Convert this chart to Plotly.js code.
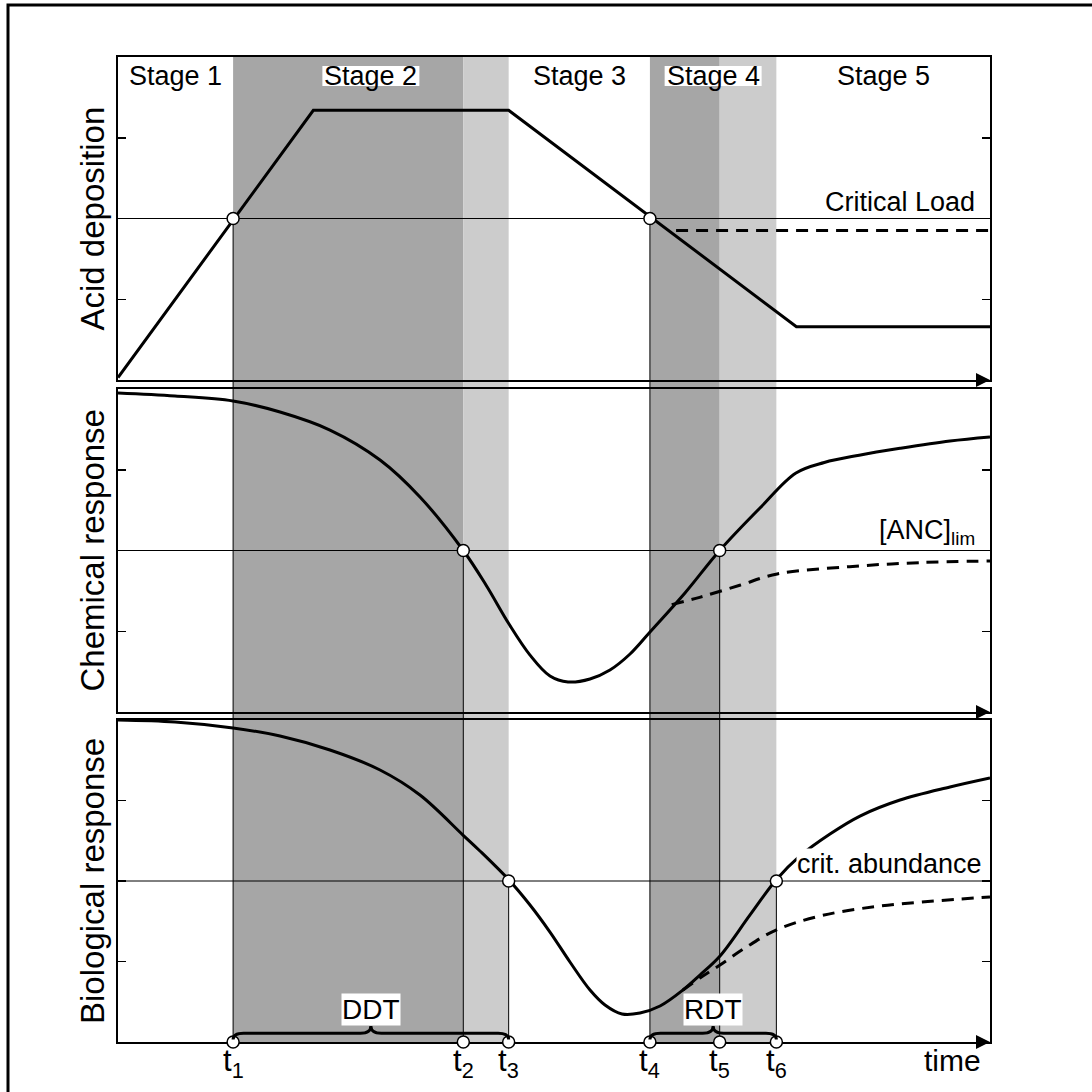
<!DOCTYPE html>
<html><head><meta charset="utf-8">
<script src="https://cdn.plot.ly/plotly-3.0.1.min.js"></script>
<style>html,body{margin:0;padding:0;background:#fff}#chart{width:1092px;height:1092px}</style>
</head><body><div id="chart"></div>
<script>
// ---------------- data ----------------
const titleText = 'Damage delay times and recovery delay times concept';
const panelTitles = ['Acid deposition', 'Chemical response', 'Biological response'];
const thresholdLabels = ['Critical Load', '[ANC]<sub>lim</sub>', 'crit. abundance'];
const thresholds = [2, 2, 2];
const stageLabels = ['Stage 1', 'Stage 2', 'Stage 3', 'Stage 4', 'Stage 5'];
const tLabels = ['t<sub>1</sub>', 't<sub>2</sub>', 't<sub>3</sub>', 't<sub>4</sub>', 't<sub>5</sub>', 't<sub>6</sub>'];
const tValues = [13.2, 39.6, 44.8, 61.0, 69.0, 75.5];
const tPanel = [0, 1, 2, 0, 1, 2];          // panel in which each t crosses its threshold
const delayLabels = ['DDT', 'RDT'];
const timeLabel = 'time';

const depX = [0, 22.4, 44.8, 77.8, 100];
const depY = [0.03, 3.34, 3.34, 0.66, 0.66];
const depDashX = [64, 100];
const depDashY = [1.85, 1.85];

const chemX = [0, 6.54, 13.19, 18.58, 24.31, 30.05, 34.63, 39.6, 42.2, 44.84, 47.25, 49.54, 51.61, 54.13, 56.42, 58.72, 61.01, 65.02, 69.0, 73.62, 77.75, 81.0, 85.0, 89.68, 95.41, 100];
const chemY = [3.95, 3.913, 3.851, 3.715, 3.492, 3.121, 2.663, 2.0, 1.573, 1.090, 0.705, 0.446, 0.372, 0.409, 0.520, 0.718, 0.991, 1.474, 2.0, 2.526, 2.960, 3.09, 3.18, 3.265, 3.356, 3.406];
const chemDashX = [63.5, 66.7, 71.3, 75.6, 83.9, 91.9, 100];
const chemDashY = [1.33, 1.42, 1.57, 1.71, 1.80, 1.85, 1.87];

const bioX = [0, 6.54, 13.19, 18.58, 24.31, 30.05, 34.63, 39.56, 41.51, 44.84, 47.25, 49.54, 51.83, 54.13, 55.85, 57.80, 59.86, 62.16, 64.79, 66.74, 69.04, 72.48, 75.46, 78.21, 81.65, 85.09, 89.68, 95.41, 100];
const bioY = [4.0, 3.975, 3.901, 3.801, 3.627, 3.379, 3.068, 2.571, 2.373, 2.012, 1.702, 1.366, 0.994, 0.646, 0.460, 0.348, 0.360, 0.447, 0.646, 0.832, 1.068, 1.578, 2.012, 2.311, 2.584, 2.807, 3.006, 3.168, 3.280];
const bioDashX = [64.79, 66.74, 69.04, 71.9, 75.46, 80.5, 87.4, 100];
const bioDashY = [0.646, 0.795, 0.957, 1.168, 1.391, 1.565, 1.689, 1.801];

// ---------------- geometry / style ----------------
const W = 1092;
const FONT = 'Liberation Sans, Arial, sans-serif';
const panelsPx = [[57, 380], [389, 712], [720, 1042]];
const xDom = [118 / W, 990 / W];
const yDoms = panelsPx.map(p => [1 - p[1] / W, 1 - p[0] / W]);
const YR = [0, 4], XR = [0, 100];
const pxPerX = (xDom[1] - xDom[0]) * W / (XR[1] - XR[0]);
const DARK = '#a6a6a6', LIGHT = '#cccccc';
const paperY = (panel, v) => yDoms[panel][0] + (v - YR[0]) / (YR[1] - YR[0]) * (yDoms[panel][1] - yDoms[panel][0]);
const ax = i => (i === 0 ? '' : String(i + 1));

const traces = [];
const solid = [[depX, depY], [chemX, chemY], [bioX, bioY]];
const dashed = [[depDashX, depDashY], [chemDashX, chemDashY], [bioDashX, bioDashY]];
solid.forEach((s, i) => traces.push({
  x: s[0], y: s[1], xaxis: 'x' + ax(i), yaxis: 'y' + ax(i), mode: 'lines',
  line: {color: '#000', width: 3, shape: i === 0 ? 'linear' : 'spline', smoothing: 1}, hoverinfo: 'skip'
}));
dashed.forEach((s, i) => traces.push({
  x: s[0], y: s[1], xaxis: 'x' + ax(i), yaxis: 'y' + ax(i), mode: 'lines',
  line: {color: '#000', width: 3, dash: '12px,8px', shape: i === 0 ? 'linear' : 'spline', smoothing: 1}, hoverinfo: 'skip'
}));
// crossing circles
for (let p = 0; p < 3; p++) {
  const xs = tValues.filter((t, k) => tPanel[k] === p);
  traces.push({
    x: xs, y: xs.map(() => thresholds[p]), xaxis: 'x' + ax(p), yaxis: 'y' + ax(p), mode: 'markers',
    marker: {size: 12, color: '#fff', line: {color: '#000', width: 1.5}}, cliponaxis: false, hoverinfo: 'skip'
  });
}
// circles on the time axis
traces.push({
  x: tValues, y: tValues.map(() => 0), xaxis: 'x3', yaxis: 'y3', mode: 'markers',
  marker: {size: 12, color: '#fff', line: {color: '#000', width: 1.5}}, cliponaxis: false, hoverinfo: 'skip'
});

const layout = {
  width: W, height: W, margin: {l: 0, r: 0, t: 0, b: 0},
  paper_bgcolor: '#fff', plot_bgcolor: 'rgba(0,0,0,0)', showlegend: false,
  font: {family: FONT, color: '#000'},
  shapes: [], annotations: []
};
for (let i = 0; i < 3; i++) {
  layout['xaxis' + ax(i)] = {
    domain: xDom, range: XR, anchor: 'y' + ax(i), showline: true, linecolor: '#000', linewidth: 2,
    mirror: true, ticks: '', showticklabels: false, showgrid: false, zeroline: false, fixedrange: true,
    layer: 'below traces'
  };
  layout['yaxis' + ax(i)] = {
    domain: yDoms[i], range: YR, anchor: 'x' + ax(i), showline: true, linecolor: '#000', linewidth: 2,
    mirror: 'ticks', ticks: 'inside', ticklen: 8, tickwidth: 1.5, tickcolor: '#000', tickvals: [1, 2, 3],
    showticklabels: false, showgrid: false, zeroline: false, fixedrange: true
  };
}

// shaded stages (full height across the three panels)
const bands = [[tValues[0], tValues[1], DARK], [tValues[1], tValues[2], LIGHT], [tValues[3], tValues[4], DARK], [tValues[4], tValues[5], LIGHT]];
bands.forEach(b => layout.shapes.push({
  type: 'rect', xref: 'x', yref: 'paper', x0: b[0], x1: b[1], y0: yDoms[2][0], y1: yDoms[0][1],
  fillcolor: b[2], line: {width: 0}, layer: 'below'
}));
// vertical lines from threshold crossing down to the time axis
tValues.forEach((t, k) => layout.shapes.push({
  type: 'line', xref: 'x', yref: 'paper', x0: t, x1: t, y0: yDoms[2][0], y1: paperY(tPanel[k], thresholds[tPanel[k]]),
  line: {color: '#000', width: 1}, layer: 'below'
}));
// threshold lines
thresholds.forEach((v, i) => layout.shapes.push({
  type: 'line', xref: 'x' + ax(i), yref: 'y' + ax(i), x0: XR[0], x1: XR[1], y0: v, y1: v,
  line: {color: '#000', width: 1}, layer: 'below'
}));
// stage boundaries / centres
const bounds = [XR[0], tValues[0], tValues[2], tValues[3], tValues[5], XR[1]];
const stageCentres = stageLabels.map((s, i) => (bounds[i] + bounds[i + 1]) / 2);
// tight white boxes behind the labels sitting on shading (Stage 2, Stage 4)
[1, 3].forEach(i => layout.shapes.push({
  type: 'rect', xref: 'x', yref: 'paper', x0: stageCentres[i] - 48.5 / pxPerX, x1: stageCentres[i] + 48.5 / pxPerX,
  y0: 1 - 86 / W, y1: 1 - 66 / W, fillcolor: '#fff', line: {width: 0}, layer: 'below'
}));
// braces
function brace(a, b) {
  const m = (a + b) / 2, d = 1.2, h1 = 0.11, h2 = 0.2, y0 = 0.03;
  return `M${a},${y0} Q${a},${h1} ${a + d},${h1} L${m - d},${h1} Q${m},${h1} ${m},${h2} Q${m},${h1} ${m + d},${h1} L${b - d},${h1} Q${b},${h1} ${b},${y0}`;
}
[[tValues[0], tValues[2]], [tValues[3], tValues[5]]].forEach(p => layout.shapes.push({
  type: 'path', xref: 'x3', yref: 'y3', path: brace(p[0], p[1]), line: {color: '#000', width: 3}, layer: 'above'
}));
// outer frame
layout.shapes.push({type: 'rect', xref: 'paper', yref: 'paper', x0: 8 / W, x1: 1.05, y0: -0.05, y1: 1 - 5 / W,
  line: {color: '#000', width: 3}, fillcolor: 'rgba(0,0,0,0)', layer: 'below'});

// axis arrows
for (let i = 0; i < 3; i++) {
  layout.annotations.push({x: XR[1], y: 0, xref: 'x' + ax(i), yref: 'y' + ax(i), ax: XR[1] - 1.6, ay: 0,
    axref: 'x' + ax(i), ayref: 'y' + ax(i), text: '', showarrow: true, arrowhead: 2, arrowsize: 1.4, arrowwidth: 2, arrowcolor: '#000'});
}
// stage labels
stageLabels.forEach((s, i) => layout.annotations.push({
  x: stageCentres[i], y: 1 - 76 / W, xref: 'x', yref: 'paper', text: s, showarrow: false,
  font: {size: 27, family: FONT}, borderpad: 0, yanchor: 'middle'
}));
// panel titles
panelTitles.forEach((s, i) => layout.annotations.push({
  x: 92 / W, y: (yDoms[i][0] + yDoms[i][1]) / 2, xref: 'paper', yref: 'paper', text: s, showarrow: false,
  textangle: -90, font: {size: 33, family: FONT}, xanchor: 'center', yanchor: 'middle'
}));
// threshold labels
const labelRight = [976, 976, 983];
thresholdLabels.forEach((s, i) => layout.annotations.push({
  x: labelRight[i] / W, y: thresholds[i], xref: 'paper', yref: 'y' + ax(i), text: s, showarrow: false,
  font: {size: 27, family: FONT}, xanchor: 'right', yanchor: 'bottom', yshift: 1,
  bgcolor: i === 2 ? '#fff' : 'rgba(0,0,0,0)', borderpad: 0
}));
// delay labels
[[tValues[0], tValues[2]], [tValues[3], tValues[5]]].forEach((p, i) => layout.annotations.push({
  x: (p[0] + p[1]) / 2, y: 0.4, xref: 'x3', yref: 'y3', text: delayLabels[i], showarrow: false,
  font: {size: 28, family: FONT}, bgcolor: '#fff', borderpad: 0
}));
// t labels
tValues.forEach((t, k) => layout.annotations.push({
  x: t, y: 1 - 1063 / W, xref: 'x3', yref: 'paper', text: tLabels[k], showarrow: false,
  font: {size: 31, family: FONT}, xanchor: 'center', yanchor: 'middle'
}));
layout.annotations.push({x: 983 / W, y: 1 - 1060 / W, xref: 'paper', yref: 'paper', text: timeLabel, showarrow: false,
  font: {size: 30, family: FONT}, xanchor: 'right', yanchor: 'middle'});
// title (lies above the visible area; only its descenders show)
layout.annotations.push({x: 74 / W, y: 1 - 2.5 / W, xref: 'paper', yref: 'paper', text: '<b>' + titleText + '</b>', showarrow: false,
  font: {size: 32, family: FONT}, xanchor: 'left', yanchor: 'bottom', borderpad: 1});

Plotly.newPlot('chart', traces, layout, {displayModeBar: false, staticPlot: true});
</script></body></html>
